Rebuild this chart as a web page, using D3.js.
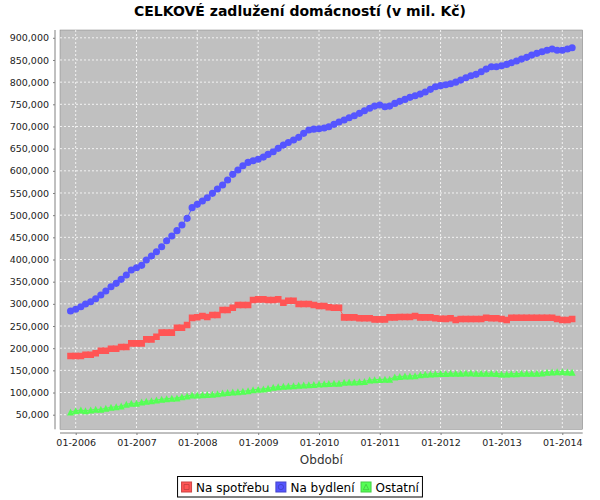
<!DOCTYPE html>
<html><head><meta charset="utf-8">
<script src="https://cdn.jsdelivr.net/npm/d3@7"></script>
<style>body{margin:0;background:#fff}svg{display:block}text{font-family:"DejaVu Sans",sans-serif}</style>
</head><body><svg id="c" width="600" height="500"></svg>
<script>
const title = "CELKOVÉ zadlužení domácností (v mil. Kč)";
const xLabel = "Období";
const seriesNames = ["Na spotřebu", "Na bydlení", "Ostatní"];
const seriesColors = ["#FF5555", "#5555FF", "#55FF55"];
const firstMonth = new Date(2005, 11, 1);
const afterLastMonth = new Date(2014, 3, 1);
const months = d3.timeMonth.range(firstMonth, afterLastMonth);
const xTickYears = [2006, 2007, 2008, 2009, 2010, 2011, 2012, 2013, 2014];
const yTicks = [50000,100000,150000,200000,250000,300000,350000,400000,450000,500000,550000,600000,650000,700000,750000,800000,850000,900000];

const spotreba = [182400,182400,182400,185300,185300,188500,194300,194300,198800,198800,202700,202700,211000,211000,211000,220000,220000,225900,235000,235000,235000,246200,246200,252300,268500,
269700,272600,270300,274800,274800,286000,286000,291300,297400,297400,297400,308700,310200,310200,308700,308700,310200,302600,307100,307100,299600,299600,299600,297400,295100,
295100,292200,291300,291300,269600,269600,269600,267400,267400,267400,265100,265100,265100,269600,269600,270300,270300,270300,272600,269600,269600,269600,267400,266500,266000,
267400,263500,265800,265800,265800,265800,265800,268700,267400,267400,265800,263500,268700,268700,268700,268700,268700,268700,268700,268700,268700,265800,263500,263500,265800];
const bydleni = [283800,287700,293500,299600,304800,311600,319900,329000,338600,346300,355300,365000,376300,381500,386900,398800,407900,417600,428800,442400,453000,465000,477800,492900,517000,
524400,532000,539300,549200,559000,568000,579300,592000,601800,611500,619000,622800,626000,631000,637000,643000,650700,658000,664000,669500,675500,684500,692000,694000,695000,
696500,699400,704800,710000,714500,719700,724200,729700,735500,741000,746000,748400,744500,746000,752000,756700,761000,765700,769300,773000,777700,783700,789600,792000,794000,
796400,800000,804700,810000,814500,817600,823500,829500,834700,834700,837000,840000,843800,847600,852000,856000,861000,865000,868600,872000,874700,872000,872000,874700,877600];
const ostatni = [56100,59000,60600,59000,60600,62100,62100,64400,66600,68000,69600,73500,75700,75700,78600,80100,81600,83100,84700,86100,87000,87700,90600,92200,94400,
94500,95000,95500,96000,97000,99000,100000,101000,102000,103000,104000,106000,107500,108000,109500,112000,113000,114000,115000,115500,116500,117000,117500,118000,119000,
120000,120500,121000,121000,123000,123500,124000,124500,125000,128000,129000,129500,130000,130000,135000,136000,137000,137500,138000,140000,141000,142000,142500,143000,143000,
143500,143500,143500,144000,144000,143500,143500,143500,143500,143000,142000,142000,142500,142500,143500,143500,143500,143500,144000,146000,146500,147000,147000,146500,146000];
const seriesValues = [spotreba, bydleni, ostatni];

const tri = {draw(ctx, size) { const h = Math.sqrt(size); ctx.moveTo(0, -h/2); ctx.lineTo(h/2, h/2); ctx.lineTo(-h/2, h/2); ctx.closePath(); }};
const shapes = [d3.symbolSquare, d3.symbolCircle, tri];
const markerSizes = [44, 40, 49];

const svg = d3.select("#c");
const P = {l: 60, r: 582.7, t: 30, b: 429.3};

const x = d3.scaleTime().domain([new Date(2006,0,1), new Date(2014,0,1)]).range([75.7, 562.3]);
const y = d3.scaleLinear().domain([50000, 900000]).range([414.7, 37.8]);

svg.append("text").attr("x", 300).attr("y", 16).attr("text-anchor", "middle")
  .style("font-weight", "bold").style("font-size", "14px").text(title);

svg.append("rect").attr("x", P.l).attr("y", P.t).attr("width", P.r - P.l).attr("height", P.b - P.t)
  .attr("fill", "#C0C0C0").attr("stroke", "#808080").attr("stroke-width", 0.5);

const xTicks = xTickYears.map(yr => new Date(yr, 0, 1));
const grid = svg.append("g");
grid.selectAll(".gx").data(xTicks).join("line")
  .attr("x1", d => x(d)).attr("x2", d => x(d)).attr("y1", P.t).attr("y2", P.b)
  .attr("stroke", "#fff").attr("stroke-dasharray", "2,2").attr("stroke-width", 0.8);
grid.selectAll(".gy").data(yTicks).join("line")
  .attr("x1", P.l).attr("x2", P.r).attr("y1", d => y(d)).attr("y2", d => y(d))
  .attr("stroke", "#fff").attr("stroke-dasharray", "2,2").attr("stroke-width", 0.8);

const yAxis = d3.axisLeft(y).tickValues(yTicks).tickFormat(d3.format(",")).tickSize(2).tickPadding(4);
const gy = svg.append("g").attr("transform", "translate(55,0)").call(yAxis);
gy.select(".domain").attr("d", `M0,${P.t}V${P.b}`).attr("stroke", "#808080");
gy.selectAll(".tick line").attr("stroke", "#808080");
gy.selectAll("text").style("font-size", "9.5px").style("font-family", "DejaVu Sans").attr("fill", "#222");

const xAxis = d3.axisBottom(x).tickValues(xTicks).tickFormat(d3.timeFormat("%m-%Y")).tickSize(2).tickPadding(4);
const gx = svg.append("g").attr("transform", "translate(0,433)").call(xAxis);
gx.select(".domain").attr("d", `M${P.l},0H${P.r}`).attr("stroke", "#808080");
gx.selectAll(".tick line").attr("stroke", "#808080");
gx.selectAll("text").style("font-size", "9.5px").style("font-family", "DejaVu Sans").attr("fill", "#222");

svg.append("text").attr("x", (P.l + P.r) / 2).attr("y", 464).attr("text-anchor", "middle")
  .style("font-size", "12px").attr("fill", "#333").text(xLabel);

const clip = svg.append("clipPath").attr("id", "clip").append("rect")
  .attr("x", P.l).attr("y", P.t).attr("width", P.r - P.l).attr("height", P.b - P.t);
const plot = svg.append("g").attr("clip-path", "url(#clip)");
const line = d3.line().x((d, i) => x(months[i])).y(d => y(d));
seriesValues.forEach((vals, s) => {
  plot.append("path").datum(vals).attr("d", line).attr("fill", "none")
    .attr("stroke", seriesColors[s]).attr("stroke-width", 1);
});
seriesValues.forEach((vals, s) => {
  const sym = d3.symbol().type(shapes[s]).size(markerSizes[s]);
  plot.selectAll(".m" + s).data(vals).join("path")
    .attr("transform", (d, i) => `translate(${x(months[i])},${y(d)})`)
    .attr("d", sym).attr("fill", seriesColors[s]);
});

// legend
const legendBox = svg.append("rect");
const lg = svg.append("g");
const items = lg.selectAll("g").data(seriesNames).join("g");
let cx = 0;
items.each(function(name, i) {
  const g = d3.select(this).attr("transform", `translate(${cx},0)`);
  g.append("rect").attr("x", 0.5).attr("y", 0.5).attr("width", 10).attr("height", 10)
    .attr("fill", seriesColors[i]).attr("stroke", d3.color(seriesColors[i]).darker(0.6));
  const ic = d3.symbol().type(shapes[i]).size(i === 0 ? 25 : i === 1 ? 22 : 30);
  g.append("path").attr("transform", "translate(5.5,5.5)").attr("d", ic)
    .attr("fill", seriesColors[i]).attr("stroke", d3.color(seriesColors[i]).darker(0.8)).attr("stroke-width", 0.8);
  const t = g.append("text").attr("x", 15).attr("y", 10).style("font-size", "12px").attr("fill", "#000").text(name);
  cx += 15 + t.node().getComputedTextLength() + 6;
});
const lw = cx - 6;
const lx = 300 - lw / 2;
lg.attr("transform", `translate(${lx},481.5)`);
legendBox.attr("x", lx - 3.5).attr("y", 476.5).attr("width", lw + 7).attr("height", 20.5)
  .attr("fill", "#fff").attr("stroke", "#000").attr("stroke-width", 1);
</script></body></html>
